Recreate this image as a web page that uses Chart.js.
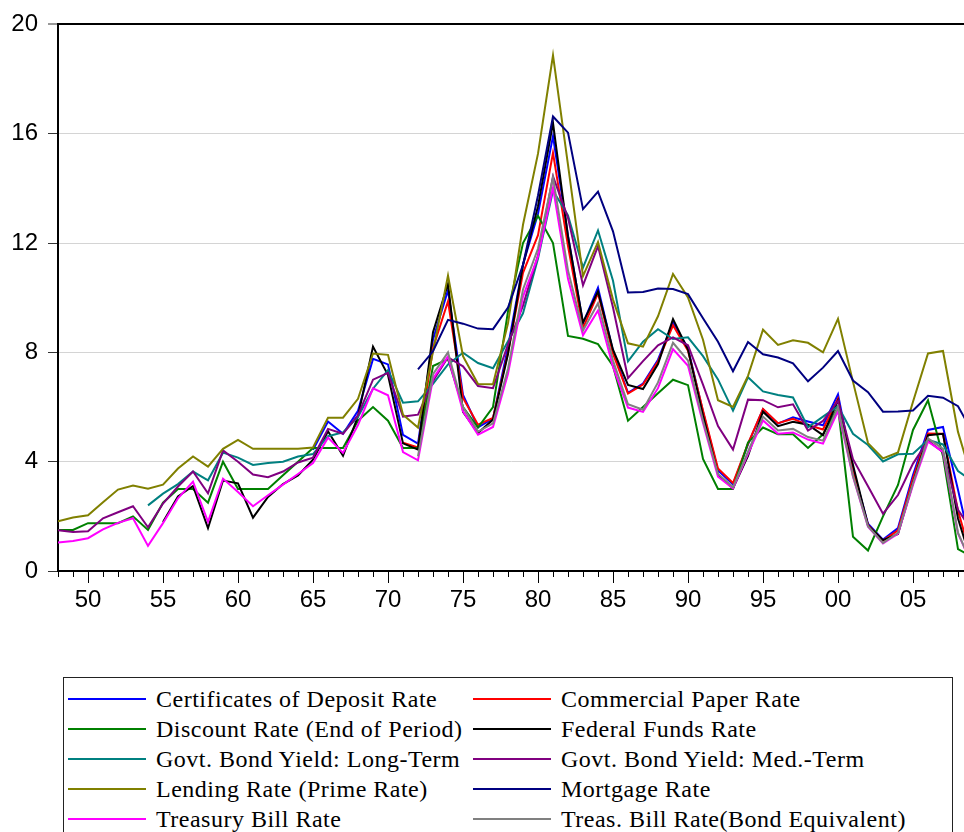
<!DOCTYPE html>
<html>
<head>
<meta charset="utf-8">
<title>Interest rates</title>
<script src="https://cdn.jsdelivr.net/npm/chart.js@4.4.0/dist/chart.umd.min.js"></script>
<style>
  body { margin: 0; background: #fff; width: 964px; height: 832px; overflow: hidden; position: relative; }
  #wrap { position: absolute; left: 0; top: 0; width: 964px; height: 640px; }
  #legend {
    position: absolute; left: 63px; top: 677px; width: 888px; height: 170px;
    border: 1px solid #222;
    font-family: 'Liberation Serif', 'Times New Roman', serif; font-size: 24px;
    letter-spacing: 0.5px; color: #000;
  }
  .item { position: absolute; display: flex; align-items: center; height: 30px; white-space: nowrap; }
  .swatch { width: 78px; height: 2px; margin-right: 10px; }
</style>
</head>
<body>
<div id="wrap"><canvas id="rateChart"></canvas></div>
<div id="legend"></div>
<script>
// years 1948 .. 2009 (the view stops a little after 2008)
const years = [1948,1949,1950,1951,1952,1953,1954,1955,1956,1957,1958,1959,
  1960,1961,1962,1963,1964,1965,1966,1967,1968,1969,1970,1971,1972,1973,1974,
  1975,1976,1977,1978,1979,1980,1981,1982,1983,1984,1985,1986,1987,1988,1989,
  1990,1991,1992,1993,1994,1995,1996,1997,1998,1999,2000,2001,2002,2003,2004,
  2005,2006,2007,2008,2009];

// Certificates of Deposit Rate (from 1965)
const cdRate = [null,null,null,null,null,null,null,null,null,null,null,null,
  null,null,null,null,null,
  4.44,5.47,5.02,5.86,7.76,7.56,4.98,4.66,8.47,10.27,6.44,5.26,5.58,8.20,11.22,
  13.07,15.91,12.27,9.07,10.37,8.05,6.52,6.86,7.73,9.09,8.15,5.83,3.68,3.17,
  4.63,5.92,5.39,5.62,5.47,5.33,6.46,3.71,1.73,1.15,1.57,3.51,5.16,5.27,2.97,0.56];

// Commercial Paper Rate (from 1971)
const cpRate = [null,null,null,null,null,null,null,null,null,null,null,null,
  null,null,null,null,null,null,null,null,null,null,null,
  4.69,4.52,8.15,9.87,6.33,5.35,5.60,7.99,10.91,12.29,
  15.30,11.89,8.89,10.16,7.95,6.49,6.82,7.66,8.99,8.06,
  5.87,3.75,3.22,4.66,5.93,5.41,5.57,5.34,5.18,6.31,
  3.61,1.69,1.11,1.49,3.38,5.03,5.02,2.20,0.30];

// Discount Rate (End of Period)
const discountRate = [1.50,1.50,1.75,1.75,1.75,2.00,1.50,2.50,3.00,3.00,2.50,4.00,
  3.00,3.00,3.00,3.50,4.00,4.50,4.50,4.50,5.50,6.00,5.50,4.50,4.50,7.50,7.75,
  6.00,5.25,6.00,9.50,12.00,13.00,12.00,8.60,8.50,8.30,7.50,5.50,6.00,6.50,7.00,
  6.80,4.10,3.00,3.00,4.70,5.25,5.00,5.00,4.50,5.00,6.00,1.25,0.75,2.00,3.15,
  5.16,6.25,4.20,0.80,0.50];

// Federal Funds Rate (from 1955)
const fedFunds = [null,null,null,null,null,null,null,
  1.79,2.73,3.11,1.57,3.31,3.21,1.95,2.71,3.18,3.50,4.07,5.11,4.22,5.66,8.21,
  7.17,4.67,4.44,8.74,10.51,5.82,5.05,5.54,7.94,11.20,13.35,16.39,12.24,9.09,
  10.23,8.10,6.81,6.66,7.57,9.22,8.10,5.69,3.52,3.02,4.21,5.83,5.30,5.46,5.35,
  4.97,6.24,3.88,1.67,1.13,1.35,3.22,4.97,5.02,1.92,0.16];

// Govt. Bond Yield: Long-Term (from 1954)
const bondLong = [null,null,null,null,null,null,
  2.40,2.83,3.18,3.64,3.32,4.33,4.15,3.88,3.95,4.00,4.19,4.28,4.93,5.07,5.64,
  6.67,7.35,6.16,6.21,6.85,7.56,7.99,7.61,7.42,8.41,9.43,11.43,13.92,13.01,
  11.10,12.46,10.62,7.67,8.39,8.85,8.49,8.55,7.86,7.01,5.87,7.09,6.57,6.44,
  6.35,5.26,5.65,6.03,5.02,4.61,4.01,4.27,4.29,4.80,4.63,3.66,3.26];

// Govt. Bond Yield: Med.-Term
const bondMed = [1.49,1.43,1.45,1.93,2.15,2.37,1.60,2.47,3.09,3.64,2.84,4.41,
  4.00,3.53,3.43,3.64,3.97,4.15,5.20,5.02,5.70,7.00,7.25,5.65,5.72,6.95,7.82,
  7.49,6.77,6.69,8.29,9.71,11.55,14.44,12.92,10.45,11.89,9.64,7.06,7.68,8.26,
  8.55,8.26,6.82,5.30,4.44,6.27,6.25,5.99,6.10,5.14,5.49,6.22,4.09,3.10,2.10,
  2.78,3.93,4.77,4.35,2.24,1.43];

// Lending Rate (Prime Rate)
const primeRate = [1.82,1.96,2.04,2.52,2.98,3.13,3.01,3.16,3.75,4.19,3.82,4.47,
  4.80,4.47,4.47,4.47,4.47,4.52,5.61,5.61,6.30,7.96,7.91,5.72,5.25,8.03,10.81,
  7.86,6.84,6.83,9.06,12.67,15.27,18.87,14.86,10.79,12.04,9.93,8.33,8.21,9.32,
  10.87,10.01,8.46,6.25,6.00,7.14,8.83,8.27,8.44,8.35,8.00,9.23,6.92,4.68,4.12,
  4.34,6.19,7.96,8.05,5.09,3.25];

// Mortgage Rate (from 1972)
const mortgageRate = [null,null,null,null,null,null,null,null,null,null,null,null,
  null,null,null,null,null,null,null,null,null,null,null,null,
  7.38,8.04,9.19,9.05,8.87,8.85,9.64,11.20,13.74,16.63,
  16.04,13.24,13.88,12.43,10.19,10.21,10.34,10.32,10.13,9.25,
  8.39,7.31,8.38,7.93,7.81,7.60,6.94,7.44,8.05,6.97,
  6.54,5.83,5.84,5.87,6.41,6.34,6.03,5.04];

// Treasury Bill Rate
const tbillRate = [1.04,1.10,1.20,1.52,1.76,1.93,0.92,1.75,2.66,3.27,1.80,3.38,
  2.89,2.37,2.77,3.16,3.55,3.95,4.88,4.32,5.34,6.68,6.43,4.35,4.05,7.04,7.85,
  5.84,4.99,5.27,7.22,10.04,11.51,14.03,10.69,8.63,9.53,7.47,5.98,5.82,6.69,
  8.12,7.51,5.42,3.45,3.02,4.29,5.51,5.02,5.07,4.81,4.66,5.85,3.45,1.62,1.01,
  1.37,3.15,4.73,4.36,1.37,0.15];

// Treas. Bill Rate (Bond Equivalent) (from 1972)
const tbillBondEq = [null,null,null,null,null,null,null,null,null,null,null,null,
  null,null,null,null,null,null,null,null,null,null,null,null,
  4.20,7.20,8.00,6.00,5.10,5.40,7.40,10.30,11.80,14.40,
  11.00,8.80,9.80,7.70,6.10,5.90,6.90,8.35,7.70,5.50,
  3.55,3.07,4.37,5.65,5.14,5.20,4.90,4.77,5.99,3.48,
  1.64,1.03,1.40,3.21,4.85,4.47,1.40,0.15];

const seriesLabels = ['Certificates of Deposit Rate', 'Commercial Paper Rate',
  'Discount Rate (End of Period)', 'Federal Funds Rate',
  'Govt. Bond Yield: Long-Term', 'Govt. Bond Yield: Med.-Term',
  'Lending Rate (Prime Rate)', 'Mortgage Rate',
  'Treasury Bill Rate', 'Treas. Bill Rate(Bond Equivalent)'];
const seriesValues = [cdRate, cpRate, discountRate, fedFunds, bondLong, bondMed,
  primeRate, mortgageRate, tbillRate, tbillBondEq];
const seriesColors = ['#0000ff', '#ff0000', '#008000', '#000000', '#008080',
  '#800080', '#808000', '#000080', '#ff00ff', '#808080'];

const yTicks = [0, 4, 8, 12, 16, 20];

// short and long tick marks under the x axis, one per year
const yearTicks = {
    id: 'yearTicks',
    afterDraw(chart) {
        const xs = chart.scales.x;
        const ctx = chart.ctx;
        const bottom = chart.chartArea.bottom;
        ctx.save();
        ctx.strokeStyle = '#000';
        ctx.lineWidth = 1;
        xs.ticks.forEach(t => {
            const px = Math.round(xs.getPixelForValue(t.value)) + 0.5;
            const len = t.value % 5 === 0 ? 12 : 6;
            ctx.beginPath();
            ctx.moveTo(px, bottom);
            ctx.lineTo(px, bottom + len);
            ctx.stroke();
        });
        ctx.restore();
    }
};

const datasets = seriesValues.map((vals, i) => ({
    label: seriesLabels[i],
    data: vals.map((v, j) => ({ x: years[j], y: v })),
    borderColor: seriesColors[i],
    backgroundColor: seriesColors[i],
    borderWidth: 2,
    pointRadius: 0,
    fill: false,
    tension: 0,
    order: seriesValues.length - i   // later series drawn on top
}));

const chart = new Chart(document.getElementById('rateChart'), {
    type: 'line',
    data: { datasets: datasets },
    options: {
        responsive: true,
        maintainAspectRatio: false,
        animation: false,
        layout: { padding: { left: 0, top: 19, right: 0, bottom: 0 } },
        plugins: { legend: { display: false }, tooltip: { enabled: false } },
        scales: {
            x: {
                type: 'linear',
                min: years[0],
                max: 2008.4,
                afterFit: s => { s.height = 69; },
                border: { display: true, color: '#000', width: 2 },
                grid: { drawOnChartArea: false, tickLength: 12, tickColor: 'rgba(0,0,0,0)' },
                ticks: {
                    stepSize: 1,
                    includeBounds: false,
                    autoSkip: false,
                    maxRotation: 0,
                    minRotation: 0,
                    padding: 3,
                    color: '#000',
                    font: { family: "'Liberation Sans', Arial, sans-serif", size: 24 },
                    callback: v => v % 5 === 0 ? String(v % 100).padStart(2, '0') : ''
                }
            },
            y: {
                min: yTicks[0],
                max: yTicks[yTicks.length - 1],
                afterFit: s => { s.width = 58; },
                afterBuildTicks: s => { s.ticks = yTicks.map(v => ({ value: v })); },
                border: { display: true, color: '#000', width: 2 },
                grid: {
                    color: c => c.tick.value === 20 ? '#000' : (c.tick.value === 0 ? 'rgba(0,0,0,0)' : '#d4d4d4'),
                    lineWidth: c => c.tick.value === 20 ? 2 : 1,
                    tickLength: 10,
                    tickColor: '#333',
                    tickWidth: 1
                },
                ticks: {
                    padding: 10,
                    color: '#000',
                    font: { family: "'Liberation Sans', Arial, sans-serif", size: 24 }
                }
            }
        }
    },
    plugins: [yearTicks]
});

// two-column legend under the plot, built from the chart's datasets
const legend = document.getElementById('legend');
chart.data.datasets.forEach((ds, i) => {
    const item = document.createElement('div');
    item.className = 'item';
    item.style.left = (i % 2 === 0 ? 4 : 409) + 'px';
    item.style.top = (6 + Math.floor(i / 2) * 30) + 'px';
    const sw = document.createElement('span');
    sw.className = 'swatch';
    sw.style.background = ds.borderColor;
    const txt = document.createElement('span');
    txt.textContent = ds.label;
    item.appendChild(sw);
    item.appendChild(txt);
    legend.appendChild(item);
});
</script>
</body>
</html>
